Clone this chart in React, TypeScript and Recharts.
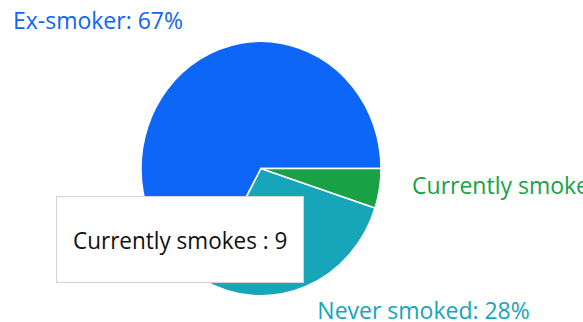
import React from 'react';
import { Cell, Pie, PieChart, Tooltip } from 'recharts';

const categories = ['Ex-smoker', 'Never smoked', 'Currently smokes'];
const counts = [120, 50, 9];
const colors = ['#0d66f5', '#17a5b9', '#18a145'];

const chartData = categories.map((name, i) => ({ name, value: counts[i] }));
const total = counts.reduce((a, b) => a + b, 0);

const RADIAN = Math.PI / 180;
const FONT = '"Open Sans", "Noto Sans", sans-serif';

function renderLabel(props: any) {
  const { cx, cy, midAngle, outerRadius, index, value } = props;
  const r = outerRadius + 33;
  const x = cx + r * Math.cos(-midAngle * RADIAN);
  const y = cy + r * Math.sin(-midAngle * RADIAN);
  const pct = Math.round((value / total) * 100);
  return (
    <text
      x={x}
      y={y}
      fill={colors[index]}
      textAnchor={x > cx ? 'start' : 'end'}
      fontSize={23}
      fontFamily={FONT}
    >
      {`${categories[index]}: ${pct}%`}
    </text>
  );
}

function TooltipBox({ active, payload }: any) {
  if (!active || !payload || !payload.length) return null;
  const item = payload[0];
  return (
    <div
      style={{
        background: '#fff',
        border: '1px solid #d4d4d4',
        padding: '0 16px',
        height: 80,
        display: 'flex',
        alignItems: 'center',
        fontFamily: FONT,
        fontSize: 22.5,
        color: '#111',
        whiteSpace: 'nowrap',
      }}
    >
      {`${item.name} : ${item.value}`}
    </div>
  );
}

export default function App() {
  return (
    <div
      style={{
        position: 'absolute',
        left: 0,
        top: 0,
        width: 583,
        height: 304,
        overflow: 'hidden',
        transform: 'scaleY(1.06)',
        transformOrigin: '0 0',
        background: '#fff',
      }}
    >
      <PieChart width={583} height={304} margin={{ top: 0, right: 0, bottom: 0, left: 0 }}>
        <Pie
          data={chartData}
          dataKey="value"
          nameKey="name"
          cx={261}
          cy={159}
          outerRadius={120}
          startAngle={0}
          endAngle={360}
          stroke="#fff"
          strokeWidth={1.5}
          label={renderLabel}
          labelLine={false}
          isAnimationActive={false}
        >
          {chartData.map((d, i) => (
            <Cell key={d.name} fill={colors[i]} />
          ))}
        </Pie>
        <Tooltip
          content={<TooltipBox />}
          defaultIndex={2}
          position={{ x: 56, y: 185 }}
          isAnimationActive={false}
        />
      </PieChart>
    </div>
  );
}
